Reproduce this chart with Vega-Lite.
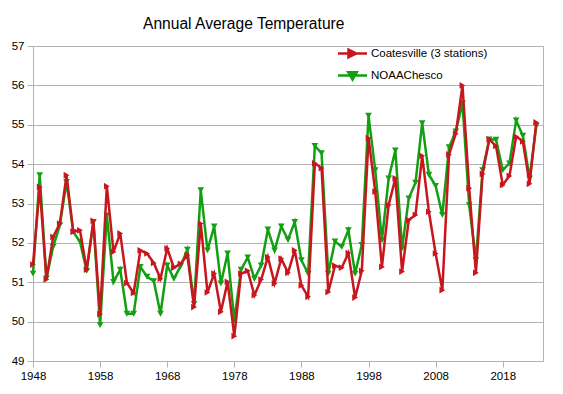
{
  "$schema": "https://vega.github.io/schema/vega-lite/v6.json",
  "width": 510,
  "height": 315,
  "autosize": {"type": "none"},
  "padding": {"left": 33, "top": 46, "right": 20, "bottom": 33},
  "background": "white",
  "title": {"text": "Annual Average Temperature", "anchor": "start", "frame": "group", "dx": 110, "offset": -5, "baseline": "alphabetic", "fontSize": 15.6, "fontWeight": "normal", "font": "Liberation Sans", "color": "#000000"},
  "data": {"values": [
    {"year":1948,"Coatesville (3 stations)":51.45,"NOAAChesco":51.22},
    {"year":1949,"Coatesville (3 stations)":53.42,"NOAAChesco":53.72},
    {"year":1950,"Coatesville (3 stations)":51.07,"NOAAChesco":51.10},
    {"year":1951,"Coatesville (3 stations)":52.15,"NOAAChesco":51.90},
    {"year":1952,"Coatesville (3 stations)":52.49,"NOAAChesco":52.45},
    {"year":1953,"Coatesville (3 stations)":53.72,"NOAAChesco":53.55},
    {"year":1954,"Coatesville (3 stations)":52.28,"NOAAChesco":52.28},
    {"year":1955,"Coatesville (3 stations)":52.32,"NOAAChesco":52.03},
    {"year":1956,"Coatesville (3 stations)":51.32,"NOAAChesco":51.29},
    {"year":1957,"Coatesville (3 stations)":52.56,"NOAAChesco":52.53},
    {"year":1958,"Coatesville (3 stations)":50.19,"NOAAChesco":49.91},
    {"year":1959,"Coatesville (3 stations)":53.44,"NOAAChesco":52.70},
    {"year":1960,"Coatesville (3 stations)":51.77,"NOAAChesco":51.01},
    {"year":1961,"Coatesville (3 stations)":52.24,"NOAAChesco":51.32},
    {"year":1962,"Coatesville (3 stations)":50.98,"NOAAChesco":50.20},
    {"year":1963,"Coatesville (3 stations)":50.73,"NOAAChesco":50.20},
    {"year":1964,"Coatesville (3 stations)":51.81,"NOAAChesco":51.39},
    {"year":1965,"Coatesville (3 stations)":51.73,"NOAAChesco":51.14},
    {"year":1966,"Coatesville (3 stations)":51.49,"NOAAChesco":51.03},
    {"year":1967,"Coatesville (3 stations)":51.09,"NOAAChesco":50.20},
    {"year":1968,"Coatesville (3 stations)":51.86,"NOAAChesco":51.43},
    {"year":1969,"Coatesville (3 stations)":51.37,"NOAAChesco":51.09},
    {"year":1970,"Coatesville (3 stations)":51.47,"NOAAChesco":51.41},
    {"year":1971,"Coatesville (3 stations)":51.69,"NOAAChesco":51.83},
    {"year":1972,"Coatesville (3 stations)":50.37,"NOAAChesco":50.45},
    {"year":1973,"Coatesville (3 stations)":52.49,"NOAAChesco":53.34},
    {"year":1974,"Coatesville (3 stations)":50.74,"NOAAChesco":51.81},
    {"year":1975,"Coatesville (3 stations)":51.22,"NOAAChesco":52.42},
    {"year":1976,"Coatesville (3 stations)":50.25,"NOAAChesco":50.97},
    {"year":1977,"Coatesville (3 stations)":51.01,"NOAAChesco":51.73},
    {"year":1978,"Coatesville (3 stations)":49.63,"NOAAChesco":50.03},
    {"year":1979,"Coatesville (3 stations)":51.22,"NOAAChesco":51.32},
    {"year":1980,"Coatesville (3 stations)":51.29,"NOAAChesco":51.63},
    {"year":1981,"Coatesville (3 stations)":50.67,"NOAAChesco":51.09},
    {"year":1982,"Coatesville (3 stations)":51.07,"NOAAChesco":51.43},
    {"year":1983,"Coatesville (3 stations)":51.64,"NOAAChesco":52.34},
    {"year":1984,"Coatesville (3 stations)":50.97,"NOAAChesco":51.81},
    {"year":1985,"Coatesville (3 stations)":51.60,"NOAAChesco":52.42},
    {"year":1986,"Coatesville (3 stations)":51.24,"NOAAChesco":52.08},
    {"year":1987,"Coatesville (3 stations)":51.81,"NOAAChesco":52.53},
    {"year":1988,"Coatesville (3 stations)":50.92,"NOAAChesco":51.56},
    {"year":1989,"Coatesville (3 stations)":50.63,"NOAAChesco":51.22},
    {"year":1990,"Coatesville (3 stations)":54.02,"NOAAChesco":54.46},
    {"year":1991,"Coatesville (3 stations)":53.90,"NOAAChesco":54.28},
    {"year":1992,"Coatesville (3 stations)":50.75,"NOAAChesco":51.22},
    {"year":1993,"Coatesville (3 stations)":51.42,"NOAAChesco":52.04},
    {"year":1994,"Coatesville (3 stations)":51.37,"NOAAChesco":51.90},
    {"year":1995,"Coatesville (3 stations)":51.74,"NOAAChesco":52.32},
    {"year":1996,"Coatesville (3 stations)":50.61,"NOAAChesco":51.22},
    {"year":1997,"Coatesville (3 stations)":51.29,"NOAAChesco":51.95},
    {"year":1998,"Coatesville (3 stations)":54.66,"NOAAChesco":55.23},
    {"year":1999,"Coatesville (3 stations)":53.30,"NOAAChesco":53.85},
    {"year":2000,"Coatesville (3 stations)":51.39,"NOAAChesco":52.07},
    {"year":2001,"Coatesville (3 stations)":52.96,"NOAAChesco":53.64},
    {"year":2002,"Coatesville (3 stations)":53.64,"NOAAChesco":54.35},
    {"year":2003,"Coatesville (3 stations)":51.27,"NOAAChesco":51.86},
    {"year":2004,"Coatesville (3 stations)":52.58,"NOAAChesco":53.13},
    {"year":2005,"Coatesville (3 stations)":52.71,"NOAAChesco":53.53},
    {"year":2006,"Coatesville (3 stations)":54.21,"NOAAChesco":55.04},
    {"year":2007,"Coatesville (3 stations)":52.79,"NOAAChesco":53.73},
    {"year":2008,"Coatesville (3 stations)":51.73,"NOAAChesco":53.45},
    {"year":2009,"Coatesville (3 stations)":50.80,"NOAAChesco":52.71},
    {"year":2010,"Coatesville (3 stations)":54.24,"NOAAChesco":54.43},
    {"year":2011,"Coatesville (3 stations)":54.77,"NOAAChesco":54.83},
    {"year":2012,"Coatesville (3 stations)":56.00,"NOAAChesco":55.55},
    {"year":2013,"Coatesville (3 stations)":53.39,"NOAAChesco":52.96},
    {"year":2014,"Coatesville (3 stations)":51.24,"NOAAChesco":51.56},
    {"year":2015,"Coatesville (3 stations)":53.75,"NOAAChesco":53.85},
    {"year":2016,"Coatesville (3 stations)":54.63,"NOAAChesco":54.63},
    {"year":2017,"Coatesville (3 stations)":54.46,"NOAAChesco":54.62},
    {"year":2018,"Coatesville (3 stations)":53.47,"NOAAChesco":53.85},
    {"year":2019,"Coatesville (3 stations)":53.70,"NOAAChesco":54.02},
    {"year":2020,"Coatesville (3 stations)":54.70,"NOAAChesco":55.11},
    {"year":2021,"Coatesville (3 stations)":54.58,"NOAAChesco":54.72},
    {"year":2022,"Coatesville (3 stations)":53.50,"NOAAChesco":53.64},
    {"year":2023,"Coatesville (3 stations)":55.06,"NOAAChesco":54.97}
  ]},
  "transform": [{"fold": ["Coatesville (3 stations)", "NOAAChesco"], "as": ["series", "temp"]}],
  "encoding": {
    "x": {"field": "year", "type": "quantitative", "scale": {"domain": [1948, 2024], "nice": false, "zero": false},
      "axis": {"values": [1948, 1958, 1968, 1978, 1988, 1998, 2008, 2018], "format": "d", "grid": false, "title": null, "labelPadding": 3, "labelFlush": false, "labelOverlap": false}},
    "y": {"field": "temp", "type": "quantitative", "scale": {"domain": [49, 57], "nice": false, "zero": false},
      "axis": {"values": [49, 50, 51, 52, 53, 54, 55, 56, 57], "grid": true, "title": null, "labelPadding": 3}},
    "color": {"field": "series", "type": "nominal",
      "scale": {"domain": ["Coatesville (3 stations)", "NOAAChesco"], "range": ["#c8161e", "#12a012"]},
      "legend": {
        "orient": "none", "legendX": 313, "legendY": 1, "title": null,
        "symbolSize": 100, "labelFont": "Liberation Sans", "labelFontSize": 11.5, "labelColor": "#000000",
        "labelOffset": 12, "rowPadding": 4, "symbolStrokeWidth": 2.5,
        "encode": {"symbols": {"update": {
          "shape": {"signal": "datum.value === 'NOAAChesco' ? 'M-2.9,0L2.9,0M-0.85,-0.65L0.85,-0.65L0,0.8Z' : 'M-2.9,0L2.9,0M-0.8,-0.75L0.75,0L-0.8,0.75Z'"},
          "fill": {"signal": "datum.value === 'NOAAChesco' ? '#12a012' : '#c8161e'"},
          "stroke": {"signal": "datum.value === 'NOAAChesco' ? '#12a012' : '#c8161e'"},
          "fillOpacity": {"value": 1},
          "strokeWidth": {"value": 2.5}
        }}}
      }}
  },
  "layer": [
    {"transform": [{"filter": "datum.series === 'NOAAChesco'"}], "mark": {"type": "line", "strokeWidth": 2.5}},
    {"transform": [{"filter": "datum.series === 'NOAAChesco'"}], "mark": {"type": "point", "shape": "triangle-down", "filled": true, "opacity": 1, "size": 45}},
    {"transform": [{"filter": "datum.series === 'Coatesville (3 stations)'"}], "mark": {"type": "line", "strokeWidth": 2.5}},
    {"transform": [{"filter": "datum.series === 'Coatesville (3 stations)'"}], "mark": {"type": "point", "shape": "triangle-right", "filled": true, "opacity": 1, "size": 45}}
  ],
  "config": {
    "view": {"stroke": "#b3b3b3", "strokeWidth": 1},
    "axis": {"labelFont": "Liberation Sans", "labelFontSize": 11.5, "labelColor": "#000000", "domainColor": "#b3b3b3", "tickColor": "#b3b3b3", "gridColor": "#b3b3b3", "tickSize": 6, "domainWidth": 1, "tickWidth": 1, "gridWidth": 1}
  }
}
